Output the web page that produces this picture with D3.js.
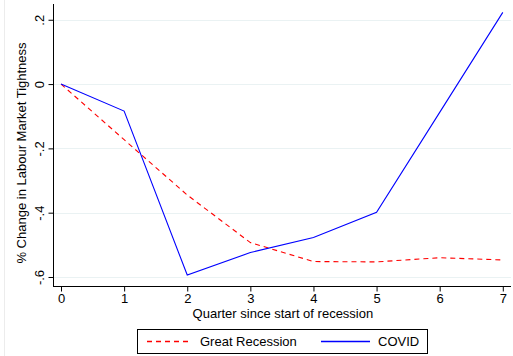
<!DOCTYPE html>
<html>
<head>
<meta charset="utf-8">
<script src="https://cdn.jsdelivr.net/npm/d3@7"></script>
<style>
  html, body { margin: 0; padding: 0; background: #fff; }
  svg { display: block; font-family: "Liberation Sans", Arial, sans-serif; }
</style>
</head>
<body>
<svg id="chart" width="513" height="356"></svg>
<script>
// Quarters since the start of each recession
const quarters = [0, 1, 2, 3, 4, 5, 6, 7];
// % change in labour market tightness
const greatRecession = [0, -0.173, -0.345, -0.493, -0.552, -0.553, -0.540, -0.547];
const covid = [0, -0.084, -0.594, -0.524, -0.477, -0.399, -0.088, 0.223];
const yTicks = [-0.6, -0.4, -0.2, 0, 0.2];
const yTickLabels = ["-.6", "-.4", "-.2", "0", ".2"];
const seriesNames = ["Great Recession", "COVID"];
const seriesColors = ["#ff0000", "#0000ff"];

const svg = d3.select("#chart");
const plot = { left: 53, right: 511, top: 4, bottom: 286 };
const fs = 13;

const x = d3.scaleLinear().domain([-0.127, 7.13]).range([plot.left, plot.right]);
const y = d3.scaleLinear().domain([-0.628, 0.249]).range([plot.bottom, plot.top]);

// faint outer frame edge of the graph region
svg.append("line")
  .attr("x1", 4.5).attr("x2", 4.5).attr("y1", 0).attr("y2", 356)
  .attr("stroke", "#ececec").attr("stroke-width", 1);

// horizontal gridlines
svg.append("g").selectAll("line").data(yTicks).join("line")
  .attr("x1", plot.left).attr("x2", plot.right)
  .attr("y1", d => Math.round(y(d)) + 0.5).attr("y2", d => Math.round(y(d)) + 0.5)
  .attr("stroke", "#eaf2f3").attr("stroke-width", 1);

// y axis
const yAxis = svg.append("g")
  .attr("transform", `translate(${plot.left + 0.5},0)`)
  .call(d3.axisLeft(y).tickValues(yTicks).tickSize(5).tickPadding(4)
    .tickFormat((d, i) => yTickLabels[i]));
yAxis.select(".domain").attr("d", `M0,${plot.top}V${plot.bottom}`).attr("stroke", "#000");
yAxis.selectAll(".tick line").attr("stroke", "#000");
yAxis.selectAll(".tick text")
  .attr("font-size", fs).attr("fill", "#000")
  .attr("text-anchor", "middle")
  .attr("x", 0).attr("dy", 0)
  .attr("transform", "translate(-13,0) rotate(-90)")
  .attr("dominant-baseline", "middle");

// x axis
const xAxis = svg.append("g")
  .attr("transform", `translate(0,${plot.bottom + 0.5})`)
  .call(d3.axisBottom(x).tickValues(quarters).tickSize(5).tickPadding(2).tickFormat(d3.format("d")));
xAxis.select(".domain").attr("d", `M${plot.left},0H${plot.right}`).attr("stroke", "#000");
xAxis.selectAll(".tick line").attr("stroke", "#000");
xAxis.selectAll(".tick text").attr("font-size", fs).attr("fill", "#000");

// axis titles
svg.append("text")
  .attr("x", (x(0) + x(7)) / 2 + 1).attr("y", 318)
  .attr("text-anchor", "middle").attr("font-size", fs).attr("fill", "#000")
  .text("Quarter since start of recession");

svg.append("text")
  .attr("transform", `translate(26,${(plot.top + plot.bottom) / 2 + 8}) rotate(-90)`)
  .attr("text-anchor", "middle").attr("font-size", fs).attr("fill", "#000")
  .text("% Change in Labour Market Tightness");

// series lines
const line = d3.line().x((d, i) => x(quarters[i])).y(d => y(d));

svg.append("path").datum(greatRecession)
  .attr("d", line).attr("fill", "none")
  .attr("stroke", seriesColors[0]).attr("stroke-width", 1.1)
  .attr("stroke-dasharray", "5,4");

svg.append("path").datum(covid)
  .attr("d", line).attr("fill", "none")
  .attr("stroke", seriesColors[1]).attr("stroke-width", 1.1);

// legend
const lg = svg.append("g");
lg.append("rect")
  .attr("x", 137.5).attr("y", 329.5).attr("width", 290).attr("height", 24)
  .attr("fill", "#fff").attr("stroke", "#000").attr("stroke-width", 1);
lg.append("line")
  .attr("x1", 147).attr("x2", 192).attr("y1", 341.5).attr("y2", 341.5)
  .attr("stroke", seriesColors[0]).attr("stroke-width", 1.3).attr("stroke-dasharray", "5,4");
lg.append("text").attr("x", 200).attr("y", 346)
  .attr("font-size", fs).attr("fill", "#000").text(seriesNames[0]);
lg.append("line")
  .attr("x1", 321).attr("x2", 370).attr("y1", 341.5).attr("y2", 341.5)
  .attr("stroke", seriesColors[1]).attr("stroke-width", 1.3);
lg.append("text").attr("x", 378).attr("y", 346)
  .attr("font-size", fs).attr("fill", "#000").text(seriesNames[1]);
</script>
</body>
</html>
